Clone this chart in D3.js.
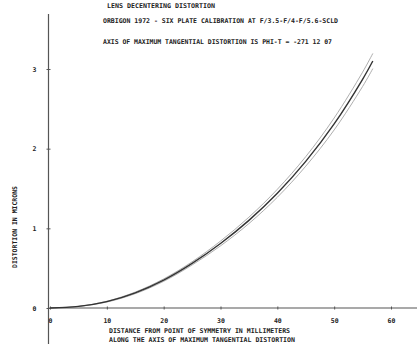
<!DOCTYPE html>
<html>
<head>
<meta charset="utf-8">
<script src="https://cdn.jsdelivr.net/npm/d3@7"></script>
<style>
  body { margin: 0; background: #fff; }
  svg { display: block; }
  text { font-family: "DejaVu Sans Mono", monospace; font-weight: bold; fill: #222; }
</style>
</head>
<body>
<figure id="plot" style="margin:0"></figure>
<script>
// values (mm, microns)
const distance = [0, 5, 10, 15, 20, 25, 30, 35, 40, 45, 50, 55, 56.8];
const distortion = [0, 0.02, 0.08, 0.19, 0.35, 0.56, 0.81, 1.10, 1.44, 1.84, 2.31, 2.87, 3.10];
const spread = [0, 0, 0.005, 0.01, 0.015, 0.02, 0.03, 0.04, 0.05, 0.06, 0.075, 0.09, 0.095];
const xTicks = [0, 10, 20, 30, 40, 50, 60];
const yTicks = [0, 1, 2, 3];
const titles = [
  'LENS DECENTERING DISTORTION',
  'ORBIGON 1972 - SIX PLATE CALIBRATION AT F/3.5-F/4-F/5.6-SCLD',
  'AXIS OF MAXIMUM TANGENTIAL DISTORTION IS PHI-T = -271 12 07'
];
const xTitle = [
  'DISTANCE FROM POINT OF SYMMETRY IN MILLIMETERS',
  'ALONG THE AXIS OF MAXIMUM TANGENTIAL DISTORTION'
];
const yTitle = 'DISTORTION IN MICRONS';

const width = 417, height = 352;

const svg = d3.select('figure#plot')
  .append('svg')
  .attr('width', width)
  .attr('height', height);

const x = d3.scaleLinear().domain([0, 60]).range([50, 391]);
const y = d3.scaleLinear().domain([0, 3]).range([308, 69]);

// axis lines run past the data area like the plotter drew them
svg.append('line')
  .attr('x1', 48.5).attr('x2', 48.5).attr('y1', 14).attr('y2', 344)
  .attr('stroke', '#555').attr('stroke-width', 1.2);
svg.append('line')
  .attr('x1', 48).attr('x2', width).attr('y1', y(0)).attr('y2', y(0))
  .attr('stroke', '#555').attr('stroke-width', 1.2);

const yAxis = svg.append('g')
  .attr('transform', 'translate(48.5,0)')
  .call(d3.axisLeft(y).tickValues(yTicks).tickSize(2).tickPadding(10).tickFormat(d3.format('d')));
yAxis.select('.domain').remove();
yAxis.selectAll('line').attr('x2', 2).attr('x1', -2).attr('stroke', '#555');
yAxis.selectAll('text').style('font-size', '6.5px').attr('fill', '#333');

const xAxis = svg.append('g')
  .attr('transform', 'translate(0,' + y(0) + ')')
  .call(d3.axisBottom(x).tickValues(xTicks).tickSize(2).tickPadding(8).tickFormat(d3.format('d')));
xAxis.select('.domain').remove();
xAxis.selectAll('line').attr('y1', -1.5).attr('y2', 1.5).attr('stroke', '#555');
xAxis.selectAll('text').style('font-size', '6.5px').attr('fill', '#333');

const rows = distance.map((d, i) => ({ d: d, v: distortion[i], s: spread[i] }));
const line = acc => d3.line().x(r => x(r.d)).y(r => y(acc(r))).curve(d3.curveCatmullRom);

svg.append('path').datum(rows)
  .attr('d', line(r => r.v + r.s))
  .attr('fill', 'none').attr('stroke', '#999').attr('stroke-width', 0.8);
svg.append('path').datum(rows)
  .attr('d', line(r => r.v - r.s))
  .attr('fill', 'none').attr('stroke', '#999').attr('stroke-width', 0.8);
svg.append('path').datum(rows)
  .attr('d', line(r => r.v))
  .attr('fill', 'none').attr('stroke', '#333').attr('stroke-width', 1.4);

// header lines
const titleY = [8, 23, 44];
const titleLen = [108, 235, 229];
svg.selectAll('text.title')
  .data(titles)
  .enter()
  .append('text')
  .attr('class', 'title')
  .attr('x', (d, i) => i === 0 ? 107 : 103)
  .attr('y', (d, i) => titleY[i])
  .attr('textLength', (d, i) => titleLen[i])
  .attr('lengthAdjust', 'spacingAndGlyphs')
  .style('font-size', '6.5px')
  .text(d => d);

svg.selectAll('text.xtitle')
  .data(xTitle)
  .enter()
  .append('text')
  .attr('class', 'xtitle')
  .attr('x', 109)
  .attr('y', (d, i) => 333 + i * 9)
  .attr('textLength', (d, i) => i === 0 ? 181 : 186)
  .attr('lengthAdjust', 'spacingAndGlyphs')
  .style('font-size', '6.5px')
  .text(d => d);

svg.append('text')
  .attr('transform', 'translate(17,227) rotate(-90)')
  .attr('text-anchor', 'middle')
  .attr('textLength', 82)
  .attr('lengthAdjust', 'spacingAndGlyphs')
  .style('font-size', '6.5px')
  .text(yTitle);
</script>
</body>
</html>
